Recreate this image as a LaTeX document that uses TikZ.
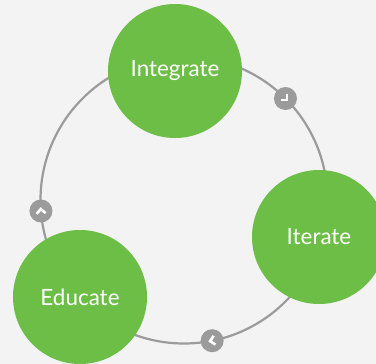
\documentclass[tikz,border=0pt]{standalone}
\usepackage{fontspec}
\setmainfont{Lato}
\usetikzlibrary{calc}
\definecolor{bg}{HTML}{F3F3F3}
\definecolor{leaf}{HTML}{6DBE47}
\definecolor{ringgray}{HTML}{9B9B9B}
\tikzset{
  ring/.style={draw=ringgray, line width=2.2bp},
  stage/.style={circle, fill=leaf, minimum size=134bp, inner sep=0pt, text=white, font=\fontsize{22.5}{26}\selectfont},
  marker/.style={circle, fill=ringgray, minimum size=23bp, inner sep=0pt},
  chev/.style={draw=white, line width=2.6bp, line cap=butt, line join=miter}
}
\begin{document}
\begin{tikzpicture}[x=1bp,y=-1bp]
\fill[bg] (0,0) rectangle (376,364);
\useasboundingbox (0,0) rectangle (376,364);
\coordinate (hub) at (184,200);
\draw[ring] (hub) circle (143.5);
\node[stage] (integrate) at (175,71) {Integrate};
\node[stage] (iterate) at (319,237) {Iterate};
\node[stage] (educate) at (80,297) {Educate};
\node[marker] (m1) at ($(hub)+(-45:143.5)$) {};
\node[marker] (m2) at ($(hub)+(78.7:143.5)$) {};
\node[marker] (m3) at ($(hub)+(175.6:143.5)$) {};
\begin{scope}[shift={(m1.center)}, rotate=-45]
  \draw[chev] (-2.5,-4.5) -- (2,0) -- (-2.5,4.5);
\end{scope}
\begin{scope}[shift={(m2.center)}, rotate=-168.7]
  \draw[chev] (-2.5,-4.5) -- (2,0) -- (-2.5,4.5);
\end{scope}
\begin{scope}[shift={(m3.center)}, rotate=94.4]
  \draw[chev] (-2.5,-4.5) -- (2,0) -- (-2.5,4.5);
\end{scope}
\end{tikzpicture}
\end{document}
